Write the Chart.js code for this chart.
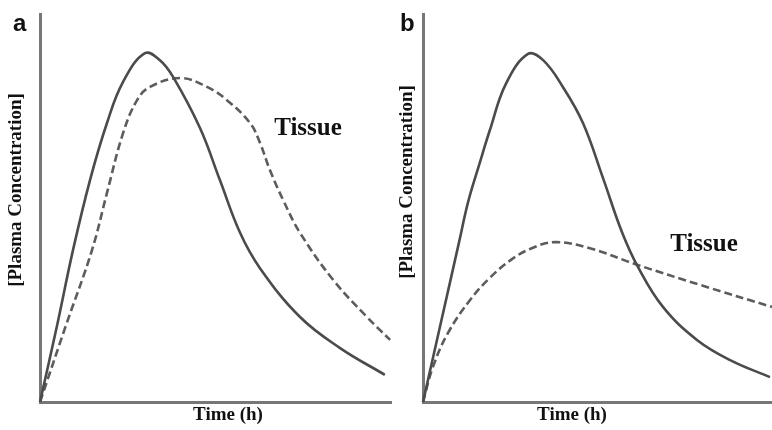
<!DOCTYPE html>
<html>
<head>
<meta charset="utf-8">
<script src="https://cdn.jsdelivr.net/npm/chart.js@4.4.1/dist/chart.umd.min.js"></script>
<style>
body { margin: 0; background: #fff; width: 772px; height: 430px; overflow: hidden; position: relative; }
canvas { position: absolute; top: 0; }
#chartA { left: 0; }
#chartB { left: 392px; }
</style>
</head>
<body>
<canvas id="chartA" width="392" height="430"></canvas>
<canvas id="chartB" width="380" height="430"></canvas>
<script>
// panel a
const plasmaTimeA = [0, 0.58, 1.13, 1.71, 2.29, 2.84, 3.59, 4.10, 4.55, 5.47, 6.15, 6.84, 7.52, 8.89, 10.26, 11.79];
const plasmaA = [0, 19.6, 39.2, 57.2, 71.9, 82.5, 89.9, 88.1, 83.8, 70.6, 57.2, 43.6, 34.5, 21.9, 13.9, 7.0];
const tissueTimeA = [0, 0.89, 1.78, 2.29, 2.84, 3.32, 3.76, 4.79, 5.71, 6.39, 7.18, 7.52, 7.86, 8.31, 8.89, 10.03, 11.18, 11.97];
const tissueA = [0, 19.8, 39.2, 53.9, 69.3, 77.8, 81.2, 83.5, 81.2, 77.8, 71.9, 66.8, 59.8, 52.1, 43.6, 31.4, 21.9, 16.0];

// panel b
const plasmaTimeB = [0, 0.62, 1.24, 1.55, 1.93, 2.30, 2.85, 3.61, 4.13, 4.81, 5.50, 6.19, 6.84, 7.39, 8.25, 9.42, 10.56, 11.93];
const plasmaB = [0, 20.6, 41.2, 51.5, 61.1, 70.1, 82.0, 89.7, 88.1, 81.2, 71.9, 57.7, 43.8, 34.8, 24.5, 16.0, 10.8, 6.4];
const tissueTimeB = [0, 0.34, 0.86, 1.62, 2.3, 3.0, 3.7, 4.54, 5.74, 7.39, 9.52, 12.0];
const tissueB = [0, 9.0, 17.8, 26.3, 32.0, 36.5, 39.5, 41.2, 39.6, 35.3, 30.2, 24.5];

const xLabel = 'Time (h)';
const yLabel = '[Plasma Concentration]';
const tissueLabel = 'Tissue';

function toPoints(xs, ys) {
    return xs.map((x, i) => ({ x: x, y: ys[i] }));
}

// draws the panel letter, axis titles and the "Tissue" note
function textPlugin(t) {
    return {
        id: 'panelText',
        afterDraw(chart) {
            const ctx = chart.ctx;
            ctx.save();
            ctx.fillStyle = '#111';
            ctx.textBaseline = 'alphabetic';
            ctx.textAlign = 'left';
            ctx.font = 'bold 24px "Liberation Sans", Arial, sans-serif';
            ctx.fillText(t.letter, t.letterX, 31);

            ctx.textAlign = 'center';
            ctx.textBaseline = 'middle';
            ctx.font = 'bold 19px "Liberation Serif", "Times New Roman", serif';
            ctx.fillText(xLabel, t.xLabelX, 415);

            ctx.save();
            ctx.translate(t.yLabelX, t.yLabelY);
            ctx.rotate(-Math.PI / 2);
            ctx.fillText(yLabel, 0, 0);
            ctx.restore();

            ctx.font = 'bold 25px "Liberation Serif", "Times New Roman", serif';
            ctx.fillText(tissueLabel, t.tissueX, t.tissueY);
            ctx.restore();
        }
    };
}

function makeChart(id, plasma, tissue, pad, t) {
    const ctx = document.getElementById(id).getContext('2d');
    return new Chart(ctx, {
        type: 'line',
        data: {
            datasets: [{
                data: plasma,
                borderColor: '#4b4b4b',
                borderWidth: 2.6,
                pointRadius: 0,
                tension: 0.4,
                clip: false
            }, {
                data: tissue,
                borderColor: '#5c5c5c',
                borderWidth: 2.6,
                borderDash: [8, 4],
                pointRadius: 0,
                tension: 0.4,
                clip: false
            }]
        },
        options: {
            responsive: false,
            animation: false,
            layout: { padding: pad },
            plugins: { legend: { display: false }, tooltip: { enabled: false } },
            scales: {
                x: {
                    type: 'linear', min: 0, max: 12,
                    ticks: { display: false },
                    grid: { display: false, drawTicks: false },
                    border: { display: true, color: '#777', width: 3 }
                },
                y: {
                    min: 0, max: 100,
                    ticks: { display: false },
                    grid: { display: false, drawTicks: false },
                    border: { display: true, color: '#777', width: 3 }
                }
            }
        },
        plugins: [textPlugin(t)]
    });
}

makeChart('chartA', toPoints(plasmaTimeA, plasmaA), toPoints(tissueTimeA, tissueA),
    { left: 40, top: 14, right: 1, bottom: 28 },
    { letter: 'a', letterX: 13, xLabelX: 228, yLabelX: 16, yLabelY: 190, tissueX: 308, tissueY: 129 });

makeChart('chartB', toPoints(plasmaTimeB, plasmaB), toPoints(tissueTimeB, tissueB),
    { left: 31, top: 14, right: 0, bottom: 28 },
    { letter: 'b', letterX: 8, xLabelX: 180, yLabelX: 15, yLabelY: 182, tissueX: 312, tissueY: 245 });
</script>
</body>
</html>
